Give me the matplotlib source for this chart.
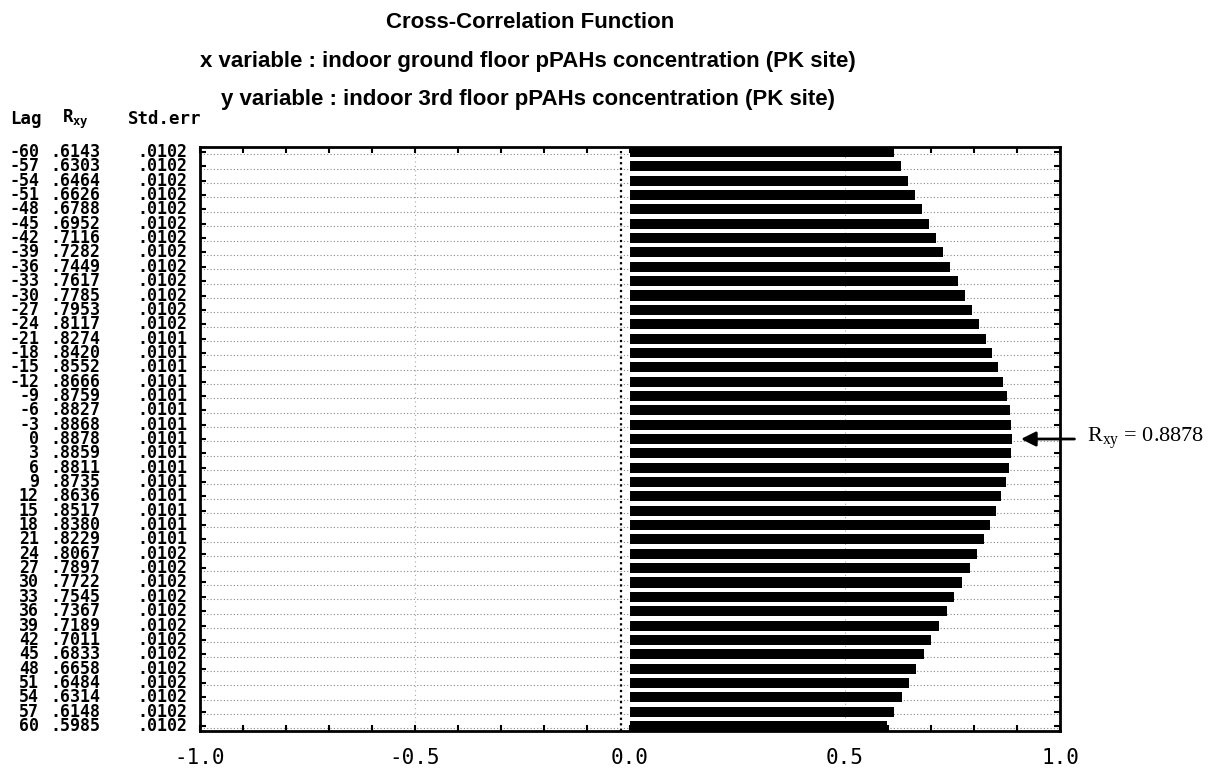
import numpy as np
import matplotlib
matplotlib.use('Agg')
from matplotlib import pyplot as plt
from matplotlib.transforms import blended_transform_factory

plt.rcParams['axes.unicode_minus'] = False

LAGS = list(range(-60, 61, 3))
RXY = [.6143, .6303, .6464, .6626, .6788, .6952, .7116, .7282, .7449, .7617,
       .7785, .7953, .8117, .8274, .8420, .8552, .8666, .8759, .8827, .8868,
       .8878,
       .8859, .8811, .8735, .8636, .8517, .8380, .8229, .8067, .7897, .7722,
       .7545, .7367, .7189, .7011, .6833, .6658, .6484, .6314, .6148, .5985]
STD_ERR = [.0102] * 13 + [.0101] * 15 + [.0102] * 13
X_TICKS = [-1.0, -0.5, 0.0, 0.5, 1.0]
PEAK_LAG = 0
PEAK_R = .8878


def fmt_corr(v):
    return '{:.4f}'.format(v)[1:]


def plot_ccf(lags, rxy, se):
    fig = plt.figure(figsize=(12.11, 7.74), dpi=100)
    ax = fig.add_axes([200 / 1211., 1 - 731 / 774., 860 / 1211., 584 / 774.])

    # dotted reference lines, one per lag row plus the +/-0.5 guides
    for lag in lags:
        ax.axhline(lag + 0.5, color='#888888', lw=0.8, ls=(0, (1, 2)), zorder=1)
    for xv in (-0.5, 0.5):
        ax.axvline(xv, color='#aaaaaa', lw=0.8, ls=(0, (1, 3)), zorder=1)
    ax.axvline(-0.022, color='black', lw=1.6, ls=(0, (1, 1.5)), zorder=2)

    ax.barh(lags, rxy, height=2.1, color='black', zorder=3)

    ax.set_xlim(-1, 1)
    ax.set_ylim(61.05, -61.05)
    ax.set_xticks(X_TICKS)
    ax.set_xticklabels(['{:.1f}'.format(t) for t in X_TICKS],
                       family='DejaVu Sans Mono', fontsize=15)
    ax.set_xticks(np.arange(-1.0, 1.01, 0.1), minor=True)
    ax.set_yticks(lags)
    ax.set_yticklabels([])
    ax.tick_params(axis='both', which='both', direction='in', length=4,
                   width=1.5, top=True, right=True)
    ax.tick_params(axis='x', which='major', pad=12)
    for sp in ax.spines.values():
        sp.set_linewidth(2.0)

    # table of lag / Rxy / std.err to the left of the bars
    trans = blended_transform_factory(fig.transFigure, ax.transData)
    mono = dict(family='DejaVu Sans Mono', weight='bold', fontsize=12,
                va='center', transform=trans, clip_on=False)
    for lag, r, s in zip(lags, rxy, se):
        ax.text(39 / 1211., lag, '{:d}'.format(lag), ha='right', **mono)
        ax.text(50 / 1211., lag, fmt_corr(r), ha='left', **mono)
        ax.text(137 / 1211., lag, fmt_corr(s), ha='left', **mono)

    hy = 1 - 119 / 774.
    head = dict(family='DejaVu Sans Mono', weight='bold', fontsize=12.5,
                va='center')
    fig.text(10 / 1211., hy, 'Lag', ha='left', **head)
    fig.text(62 / 1211., hy, r'R$_{\mathregular{xy}}$', ha='left', **head)
    fig.text(128 / 1211., hy, 'Std.err', ha='left', **head)

    ttl = dict(family='Liberation Sans', weight='bold', fontsize=16,
               ha='center', va='center')
    fig.text(530 / 1211., 1 - 22 / 774., 'Cross-Correlation Function', **ttl)
    fig.text(528 / 1211., 1 - 62 / 774.,
             'x variable : indoor ground floor pPAHs concentration (PK site)', **ttl)
    fig.text(528 / 1211., 1 - 100 / 774.,
             'y variable : indoor 3rd floor pPAHs concentration (PK site)', **ttl)

    ax.annotate('', xy=(PEAK_R + 0.015, PEAK_LAG), xytext=(1.04, PEAK_LAG),
                arrowprops=dict(arrowstyle='-|>', color='black', lw=2,
                                mutation_scale=22),
                annotation_clip=False, zorder=5)
    ax.text(1.063, PEAK_LAG, r'R$_{\mathregular{xy}}$ = ' + '{:.4f}'.format(PEAK_R),
            family='Liberation Serif', fontsize=16, va='center', ha='left',
            clip_on=False)

    fig.savefig('out.png', dpi=100)


if __name__ == '__main__':
    plot_ccf(LAGS, RXY, STD_ERR)
